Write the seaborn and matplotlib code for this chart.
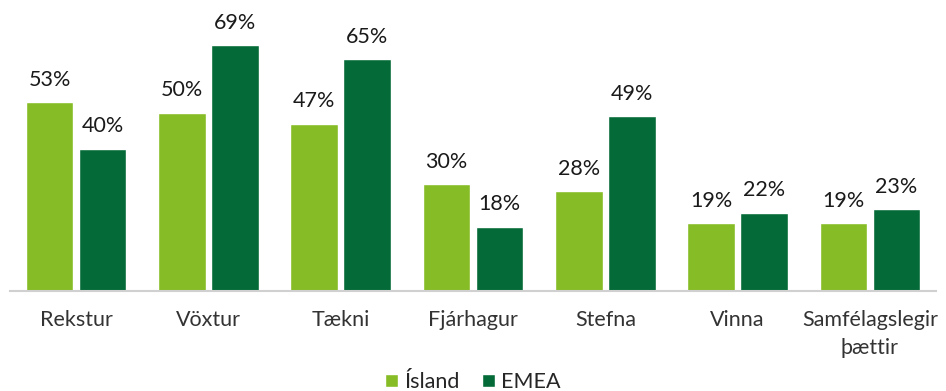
import matplotlib
matplotlib.use("Agg")
import matplotlib.pyplot as plt
import seaborn as sns
import pandas as pd

categories = ["Rekstur", "Vöxtur", "Tækni", "Fjárhagur", "Stefna", "Vinna", "Samfélagslegir\nþættir"]
island = [53, 50, 47, 30, 28, 19, 19]
emea = [40, 69, 65, 18, 49, 22, 23]
series_names = ["Ísland", "EMEA"]
colors = ["#86BC25", "#046A38"]

df = pd.DataFrame({
    "flokkur": categories * 2,
    "hlutfall": island + emea,
    "hópur": [series_names[0]] * len(categories) + [series_names[1]] * len(categories),
})

sns.set_theme(style="white")
plt.rcParams["font.family"] = ["Lato", "DejaVu Sans"]

fig = plt.figure(figsize=(9.46, 3.91), dpi=100)
ax = fig.add_axes([10 / 946, 1 - 291 / 391, 926 / 946, 285 / 391])

sns.barplot(data=df, x="flokkur", y="hlutfall", hue="hópur", palette=colors,
            width=0.8, gap=0.1, ax=ax, legend=True, saturation=1)

for cont in ax.containers:
    ax.bar_label(cont, labels=[f"{v:.0f}%" for v in cont.datavalues],
                 padding=9, fontsize=15.5, color="#1a1a1a")

ax.set_ylim(0, 80)
ax.set_xlim(-0.5, len(categories) - 0.5)
ax.set_xlabel("")
ax.set_ylabel("")
ax.set_yticks([])
ax.tick_params(axis="x", length=0, pad=14, labelsize=15.5, labelcolor="#333333")
for lbl in ax.get_xticklabels():
    lbl.set_linespacing(1.45)
for s in ["top", "left", "right"]:
    ax.spines[s].set_visible(False)
ax.spines["bottom"].set_color("#d0d0d0")
ax.spines["bottom"].set_linewidth(1.5)

leg = ax.legend(loc="center", bbox_to_anchor=(0.5, -0.32), ncol=2, frameon=False,
                fontsize=15.5, handlelength=0.6, handleheight=0.6, handletextpad=0.3,
                columnspacing=1.0)

fig.savefig("out.png", dpi=100)
